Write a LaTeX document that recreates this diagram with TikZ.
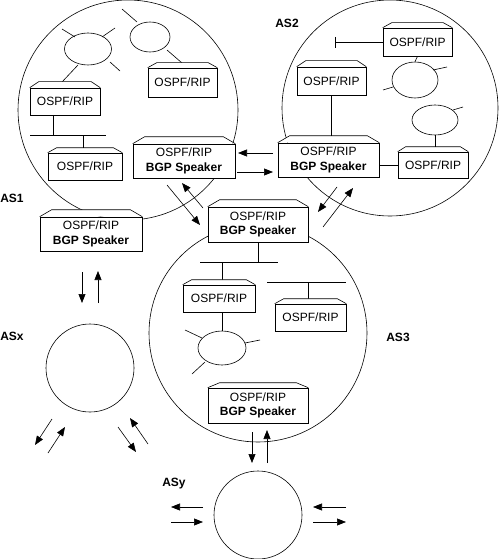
\documentclass[tikz,border=0pt]{standalone}
\usepackage{fontspec}
\setmainfont{Liberation Sans}
\usetikzlibrary{arrows.meta,shapes.geometric,calc}
% router box: name, x1, ytop, x2, ybottom, trap height, inset, text
\newcommand\rtr[8]{%
  \node[rbox, minimum width={#4-#2}, minimum height={#5-#3}] (#1) at ({(#2+#4)/2},{(#3+#5)/2}) {#8};
  \draw[fill=white] (#1.north west) -- ++(#7,-#6) -- ($(#1.north east)+(-#7,-#6)$) -- (#1.north east);
}
\begin{document}
\begin{tikzpicture}[x=1pt,y=-1pt,line width=0.6pt,
  rbox/.style={draw, fill=white, inner sep=0pt, align=center, font=\fontsize{12}{14.5}\selectfont},
  ell/.style={ellipse, draw, inner sep=0pt},
  ascirc/.style={circle, draw, inner sep=0pt},
  aslabel/.style={font=\fontsize{12}{14}\selectfont\bfseries},
  arr/.style={-{Triangle[length=9pt,width=7pt]}}]
\useasboundingbox (0,0) rectangle (500,559);

% AS circles
\node[ascirc, minimum size=220] (AS1) at (128,110) {};
\node[ascirc, minimum size=216] (AS2) at (390,108) {};
\node[ascirc, minimum size=218] (AS3) at (258,333) {};
\node[ascirc, minimum size=88] (ASx) at (90,368) {};
\node[ascirc, minimum size=88] (ASy) at (258,515) {};

% labels
\node[aslabel] (l1) at (12,198) {AS1};
\node[aslabel] (l2) at (287,23) {AS2};
\node[aslabel] (l3) at (398,337) {AS3};
\node[aslabel] (lx) at (12,336) {ASx};
\node[aslabel] (ly) at (174,484) {ASy};

% ---------- AS1 ----------
\node[ell, minimum width=47, minimum height=32] (e1) at (88,49) {};
\node[ell, minimum width=40, minimum height=30] (e2) at (150,37) {};
\draw (62,29) -- (75,37);
\draw (102,37) -- (115,28);
\draw (110,62) -- (120,71);
\draw (78,65) -- (62,82);
\draw (122,9) -- (137,22);
\draw (167,50) -- (182,63);
\rtr{a1a}{30}{88}{100}{115}{6}{9}{OSPF/RIP}
\rtr{a1b}{148}{68}{217}{97}{5}{9}{OSPF/RIP}
\rtr{a1c}{48}{153}{122}{180}{5}{9}{OSPF/RIP}
\coordinate (bus1l) at (30,135);
\coordinate (bus1r) at (106,135);
\draw (53,115) -- (53,135);
\draw (bus1l) -- (bus1r);
\draw (83,135) -- (83,148);
\rtr{bgp1}{133}{144}{235}{178}{7}{12}{OSPF/RIP\\\textbf{BGP Speaker}}
\rtr{bgp1x}{40}{217}{142}{251}{7}{12}{OSPF/RIP\\\textbf{BGP Speaker}}

% ---------- AS2 ----------
\rtr{a2a}{383}{28}{452}{56}{5}{9}{OSPF/RIP}
\draw (a2a.west) -- (335,42);
\draw (335,37) -- (335,48);
\node[ell, minimum width=46, minimum height=36] (e3) at (415,80) {};
\draw (a2a.south) -- (e3.north);
\draw (433,70) -- (447,67);
\draw (393,87) -- (383,90);
\rtr{a2b}{297}{67}{366}{95}{6}{9}{OSPF/RIP}
\node[ell, minimum width=46, minimum height=30] (e4) at (435,120) {};
\draw (453,110) -- (463,107);
\rtr{a2c}{398}{152}{468}{178}{5}{8}{OSPF/RIP}
\draw (e4.south) -- (435,147);
\rtr{bgp2}{278}{143}{379}{177}{7}{12}{OSPF/RIP\\\textbf{BGP Speaker}}
\draw (a2b.south) -- (331.5,136);
\draw (bgp2.east |- a2c.west) -- (a2c.west);

% ---------- AS3 ----------
\rtr{bgp3}{208}{207}{308}{242}{7}{12}{OSPF/RIP\\\textbf{BGP Speaker}}
\draw (bgp3.south) -- (258,262);
\draw (200,262) -- (278,262);
\draw (222,262) -- (222,280);
\rtr{a3a}{183}{285}{255}{312}{5}{9}{OSPF/RIP}
\node[ell, minimum width=48, minimum height=34] (e5) at (222,348) {};
\draw (222,312) -- (e5.north);
\draw (185,330) -- (202,338);
\draw (245,343) -- (260,340);
\draw (205,362) -- (192,374);
\draw (267,282) -- (346,282);
\draw (308,282) -- (308,299);
\rtr{a3b}{275}{304}{346}{331}{5}{9}{OSPF/RIP}
\rtr{bgp3b}{208}{388}{308}{423}{5}{12}{OSPF/RIP\\\textbf{BGP Speaker}}

% ---------- arrows ----------
\draw[arr] (273,153) -- (238,153);
\draw[arr] (237,172) -- (273,172);
\draw[arr] (167,185) -- (200,225);
\draw[arr] (203,208) -- (182,183);
\draw[arr] (337,187) -- (318,212);
\draw[arr] (323,227) -- (353,188);
\draw[arr] (82,272) -- (82,303);
\draw[arr] (98,303) -- (98,271);
\draw[arr] (52,419) -- (35,445);
\draw[arr] (48,453) -- (65,427);
\draw[arr] (118,427) -- (136,452);
\draw[arr] (148,444) -- (130,418);
\draw[arr] (252,432) -- (252,463);
\draw[arr] (267,463) -- (267,430);
\draw[arr] (203,507) -- (171,507);
\draw[arr] (171,522) -- (203,522);
\draw[arr] (346,507) -- (313,507);
\draw[arr] (313,522) -- (346,522);
\end{tikzpicture}
\end{document}
